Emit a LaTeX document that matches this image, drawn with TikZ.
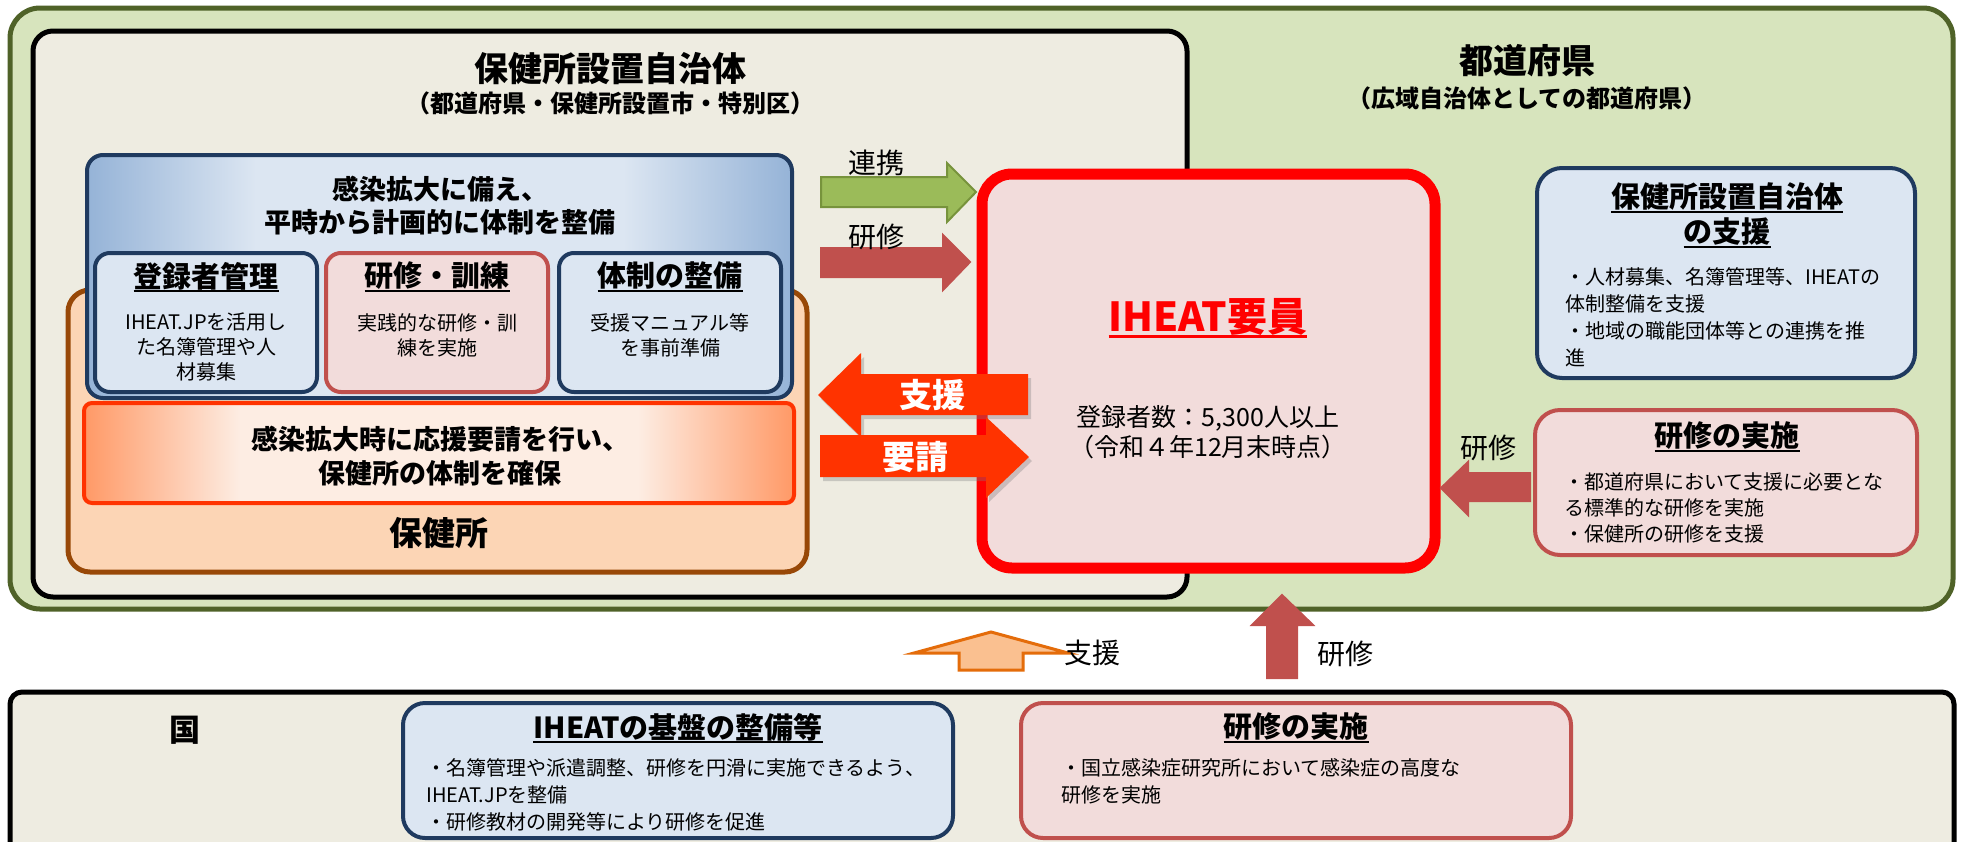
\documentclass[tikz,border=0pt]{standalone}
\usepackage{fontspec}
\setmainfont{Noto Sans CJK JP}
\usetikzlibrary{shadows}

\definecolor{prefgreen}{HTML}{D7E4BD}
\definecolor{prefline}{HTML}{4F6228}
\definecolor{beige}{HTML}{EEECE1}
\definecolor{navy}{HTML}{1F3A5F}
\definecolor{paleblue}{HTML}{DCE6F2}
\definecolor{edgeblue}{HTML}{95B3D7}
\definecolor{palepink}{HTML}{F2DCDB}
\definecolor{brick}{HTML}{C0504D}
\definecolor{peach}{HTML}{FCD5B5}
\definecolor{rust}{HTML}{984807}
\definecolor{flame}{HTML}{FF3300}
\definecolor{peachedge}{HTML}{FF9966}
\definecolor{peachmid}{HTML}{FDEDE3}
\definecolor{leaf}{HTML}{9BBB59}
\definecolor{leafline}{HTML}{77933C}
\definecolor{lightorange}{HTML}{FAC090}
\definecolor{deeporange}{HTML}{E46C0A}

\pgfdeclarehorizontalshading{bluefade}{100bp}{color(0bp)=(edgeblue); color(25bp)=(edgeblue); color(37bp)=(paleblue); color(63bp)=(paleblue); color(75bp)=(edgeblue); color(100bp)=(edgeblue)}
\pgfdeclarehorizontalshading{peachfade}{100bp}{color(0bp)=(peachedge); color(25bp)=(peachedge); color(36bp)=(peachmid); color(64bp)=(peachmid); color(75bp)=(peachedge); color(100bp)=(peachedge)}

\newcommand{\fs}[2]{\fontsize{#1}{#2}\selectfont}
\newsavebox{\ulbox}
\newcommand{\undl}[1]{\sbox\ulbox{#1}\rlap{\usebox\ulbox}\rule[-0.17em]{\wd\ulbox}{0.07em}}

\tikzset{panel/.style={draw, inner sep=0, line width=4pt, rounded corners=18pt}}
\tikzset{boxsize/.style 2 args={minimum width=#1pt, minimum height=#2pt}}
\tikzset{bluebox/.style={panel, draw=navy, fill=paleblue}}
\tikzset{pinkbox/.style={panel, draw=brick, fill=palepink}}
\tikzset{heading/.style={inner sep=0, font=\bfseries\fs{29}{35}, align=center}}
\tikzset{bigtitle/.style={inner sep=0, font=\bfseries\fs{34}{40}}}
\tikzset{subtitle/.style={inner sep=0, font=\bfseries\fs{24}{30}}}
\tikzset{bullets/.style={inner sep=0, font=\fs{20}{27}, align=left, anchor=north west}}
\tikzset{small text/.style={inner sep=0, font=\fs{20}{25}, align=center, anchor=north}}
\tikzset{arrow label/.style={inner sep=0, font=\fs{28}{34}}}
\tikzset{blockarrow/.style={line width=2pt, line join=miter}}

\begin{document}
\begin{tikzpicture}[x=1pt, y=-1pt]
  \useasboundingbox (0,0) rectangle (1964,841);
  \fill[white] (0,0) rectangle (1964,841);
  \clip (0,0) rectangle (1964,841);

  % prefecture and municipality frames
  \node[panel, boxsize={1943}{601}, line width=5pt, rounded corners=30pt, draw=prefline, fill=prefgreen] at (981.5, 308.5) (pref) {};
  \node[panel, boxsize={1154}{566}, line width=5pt, rounded corners=20pt, draw=black, fill=beige] at (610, 314) (city) {};
  \node[bigtitle] at (610, 69) (cityTitle) {保健所設置自治体};
  \node[subtitle] at (610, 103) (citySub) {（都道府県・保健所設置市・特別区）};
  \node[bigtitle] at (1527, 61) (prefTitle) {都道府県};
  \node[subtitle] at (1527, 98) (prefSub) {（広域自治体としての都道府県）};

  % health centre
  \node[panel, boxsize={739}{282}, line width=5pt, rounded corners=22pt, draw=rust, fill=peach] at (437.5, 431) (hc) {};
  \node[panel, boxsize={705}{243}, rounded corners=16pt, draw=navy, shading=bluefade] at (439.5, 276.5) (plan) {};
  \node[inner sep=0, font=\bfseries\fs{27}{33}, align=center, anchor=north] at (440, 176) (planText) {感染拡大に備え、\\平時から計画的に体制を整備};

  \node[bluebox, boxsize={222}{139}, rounded corners=15pt] at (206, 322.5) (reg) {};
  \node[pinkbox, boxsize={222}{139}, rounded corners=15pt] at (437, 322.5) (train) {};
  \node[bluebox, boxsize={222}{139}, rounded corners=15pt] at (670, 322.5) (sys) {};
  \node[heading] at (206, 277) (regTitle) {\undl{登録者管理}};
  \node[heading] at (437, 277) (trainTitle) {\undl{研修・訓練}};
  \node[heading] at (670, 277) (sysTitle) {\undl{体制の整備}};
  \node[small text] at (206, 313) (regText) {IHEAT.JPを活用し\\た名簿管理や人\\材募集};
  \node[small text] at (437, 313) (trainText) {実践的な研修・訓\\練を実施};
  \node[small text] at (670, 313) (sysText) {受援マニュアル等\\を事前準備};

  \node[panel, boxsize={710}{100}, rounded corners=8pt, draw=flame, shading=peachfade] at (439, 453) (secure) {};
  \node[inner sep=0, font=\bfseries\fs{27}{34}, align=center, anchor=north] at (440, 426) (secureText) {感染拡大時に応援要請を行い、\\保健所の体制を確保};
  \node[inner sep=0, font=\bfseries\fs{33}{38}] at (439, 533) (hcTitle) {保健所};

  % IHEAT members
  \node[panel, boxsize={453}{394}, line width=11pt, rounded corners=30pt, draw=red, fill=palepink] at (1208.5, 371) (iheat) {};
  \node[inner sep=0, font=\bfseries\fs{40}{46}, text=red] at (1208, 318) (iheatTitle) {\undl{IHEAT要員}};
  \node[inner sep=0, font=\fs{25}{30}, align=center, anchor=north] at (1208, 405) (iheatText) {登録者数：5,300人以上\\（令和４年12月末時点）};

  % arrows between city and IHEAT
  \draw[blockarrow, fill=leaf, draw=leafline] (821,177) -- (947,177) -- (947,163) -- (976,192) -- (947,222) -- (947,207) -- (821,207) -- cycle;
  \node[arrow label] at (876, 163) (linkLabel) {連携};
  \draw[blockarrow, fill=brick, draw=brick] (821,248) -- (943,248) -- (943,235) -- (970,262) -- (943,290) -- (943,277) -- (821,277) -- cycle;
  \node[arrow label] at (876, 237) (trainLabel) {研修};

  \fill[flame, drop shadow={shadow xshift=3pt, shadow yshift=-4pt, opacity=0.35}] (1028,374) -- (861,374) -- (861,353) -- (818,395) -- (861,437) -- (861,415) -- (1028,415) -- cycle;
  \node[inner sep=0, font=\bfseries\fs{33}{38}, text=white] at (932, 395) (helpLabel) {支援};
  \fill[flame, drop shadow={shadow xshift=3pt, shadow yshift=-4pt, opacity=0.35}] (820,435) -- (986,435) -- (986,417) -- (1029,457) -- (986,498) -- (986,477) -- (820,477) -- cycle;
  \node[inner sep=0, font=\bfseries\fs{33}{38}, text=white] at (915, 457) (askLabel) {要請};

  % prefecture support boxes
  \node[bluebox, boxsize={378}{210}, rounded corners=25pt] at (1726, 273) (prefHelp) {};
  \node[heading] at (1727, 215.5) (prefHelpTitle) {\undl{保健所設置自治体}\\\undl{の支援}};
  \node[bullets] at (1565, 267) (prefHelpText) {・人材募集、名簿管理等、IHEATの\\体制整備を支援\\・地域の職能団体等との連携を推\\進};

  \node[pinkbox, boxsize={382}{145}, rounded corners=25pt] at (1726, 482.5) (prefTrain) {};
  \node[heading] at (1727, 437) (prefTrainTitle) {\undl{研修の実施}};
  \node[bullets, font=\fs{20}{26}] at (1564, 472) (prefTrainText) {・都道府県において支援に必要とな\\る標準的な研修を実施\\・保健所の研修を支援};

  \draw[blockarrow, fill=brick, draw=brick] (1530,473) -- (1468,473) -- (1468,462) -- (1441,488) -- (1468,515) -- (1468,501) -- (1530,501) -- cycle;
  \node[arrow label] at (1488, 448) (prefTrainLabel) {研修};

  % arrows from the state
  \draw[line width=3pt, line join=miter, fill=lightorange, draw=deeporange] (959,670) -- (959,653) -- (914,653) -- (991,632) -- (1068,653) -- (1023,653) -- (1023,670) -- cycle;
  \node[arrow label] at (1092, 653) (stateHelpLabel) {支援};
  \draw[blockarrow, fill=brick, draw=brick] (1267,678) -- (1267,625) -- (1252,625) -- (1282,595) -- (1313,625) -- (1297,625) -- (1297,678) -- cycle;
  \node[arrow label] at (1345, 654) (stateTrainLabel) {研修};

  % state
  \node[panel, boxsize={1944}{188}, line width=5pt, rounded corners=12pt, draw=black, fill=beige] at (982, 786) (state) {};
  \node[inner sep=0, font=\bfseries\fs{31}{36}] at (185, 730) (stateTitle) {国};
  \node[bluebox, boxsize={550}{135}, rounded corners=22pt] at (678, 770.5) (base) {};
  \node[heading] at (678, 728) (baseTitle) {\undl{IHEATの基盤の整備等}};
  \node[bullets] at (426, 758) (baseText) {・名簿管理や派遣調整、研修を円滑に実施できるよう、\\IHEAT.JPを整備\\・研修教材の開発等により研修を促進};
  \node[pinkbox, boxsize={550}{135}, rounded corners=22pt] at (1296, 770.5) (stateTrain) {};
  \node[heading] at (1296, 728) (stateTrainTitle) {\undl{研修の実施}};
  \node[bullets] at (1061, 758) (stateTrainText) {・国立感染症研究所において感染症の高度な\\研修を実施};
\end{tikzpicture}
\end{document}
